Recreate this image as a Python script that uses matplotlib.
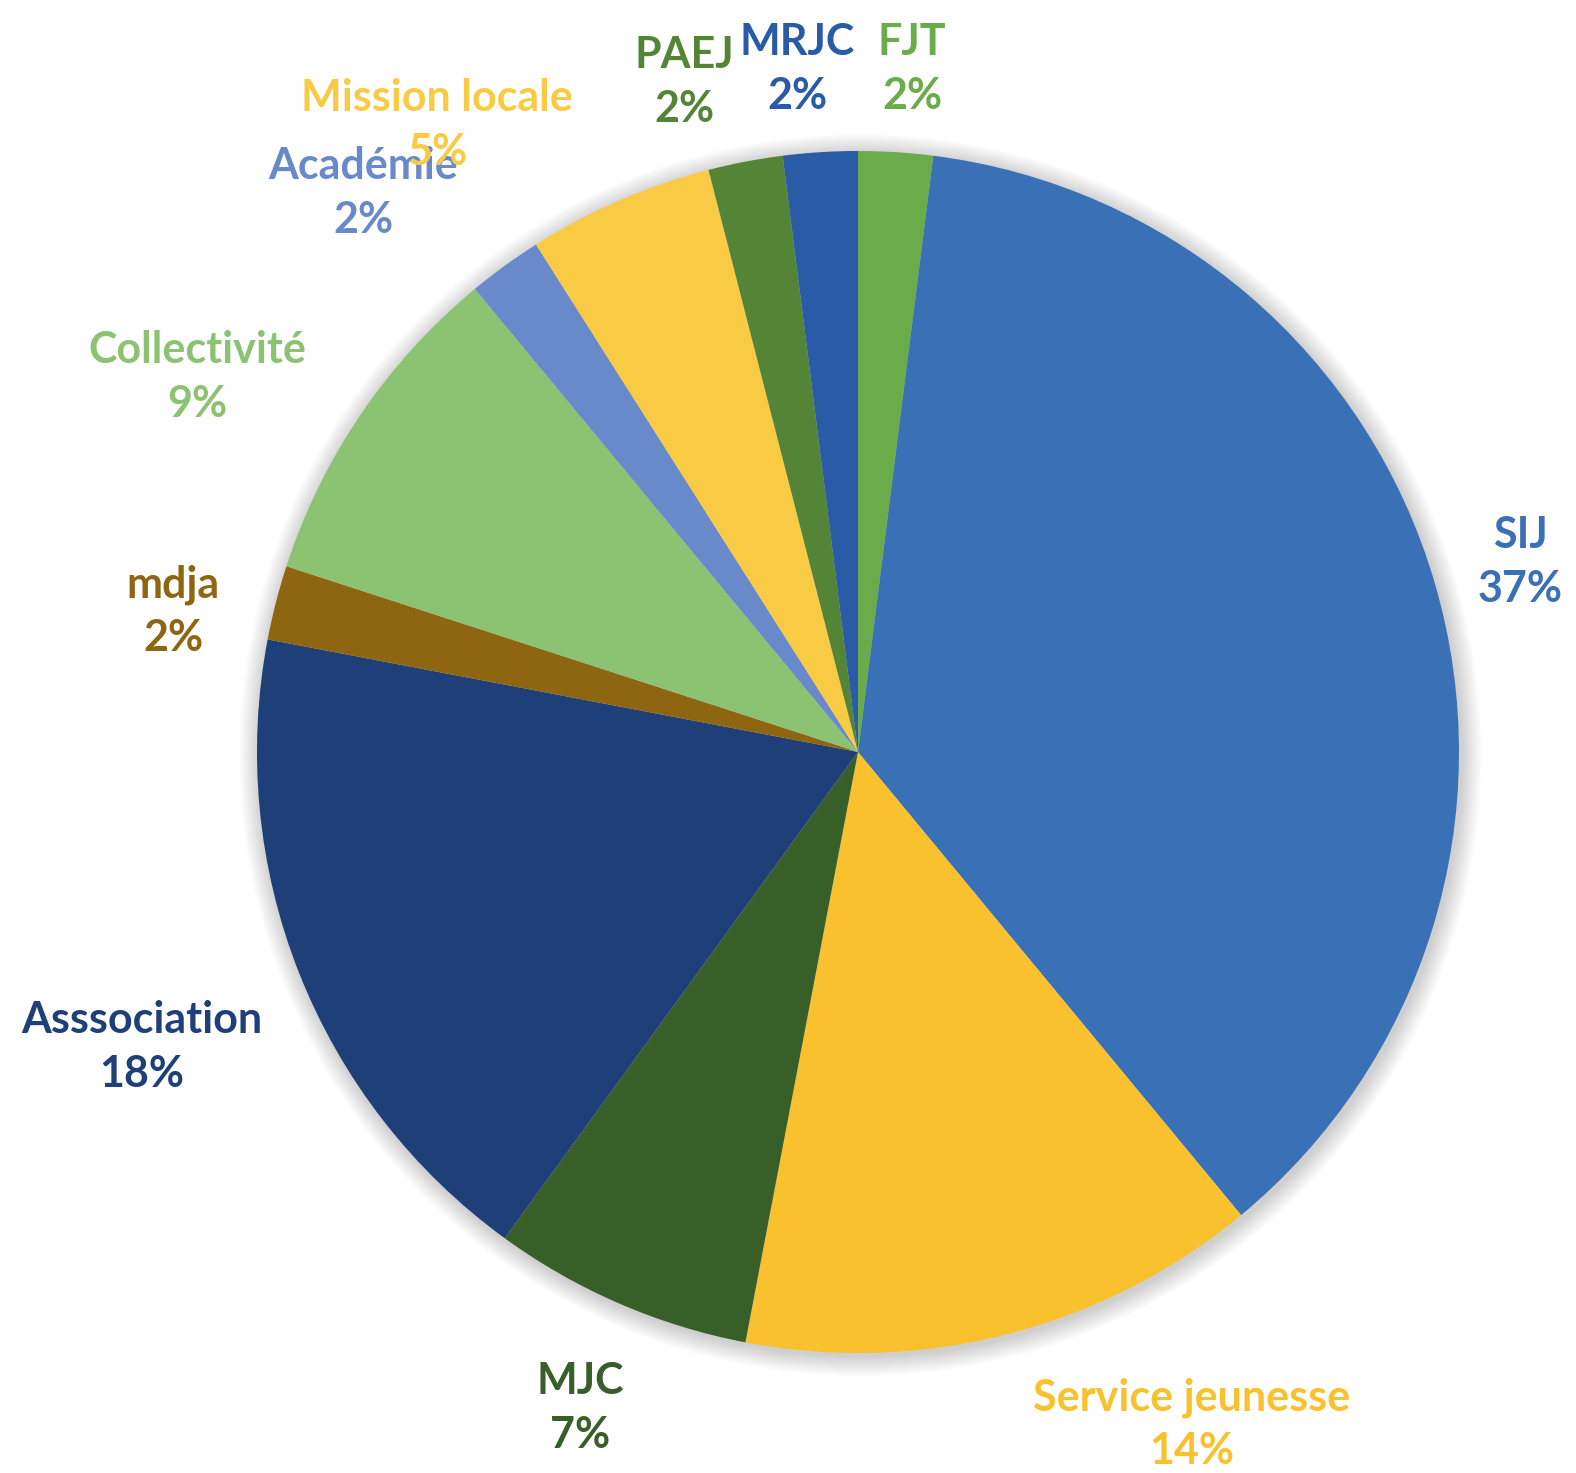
import matplotlib
matplotlib.use("Agg")
import matplotlib.pyplot as plt
from matplotlib.patches import Circle

# Share of structures, clockwise from 12 o'clock
categories = ["FJT", "SIJ", "Service jeunesse", "MJC", "Asssociation", "mdja",
              "Collectivité", "Académie", "Mission locale", "PAEJ", "MRJC"]
shares = [2, 37, 14, 7, 18, 2, 9, 2, 5, 2, 2]
colors = ["#6AAB4A", "#3A70B5", "#F9C12E", "#385F27", "#1E3F78", "#8E6510",
          "#8BC373", "#698ACA", "#F9CB45", "#548537", "#2A5BA6"]

# Label block centres in pixels (figure space, origin top-left)
label_px = [(912, 69), (1520, 562), (1192, 1424), (580, 1408), (142, 1047),
            (173, 611), (197, 377), (363, 193), (437, 125), (684, 82), (797, 69)]

W, H = 1576, 1473
CX, CY, R = 858, 752, 601

fig = plt.figure(figsize=(W / 100, H / 100), dpi=100)
ax = fig.add_axes([0, 0, 1, 1])

# soft outer shadow around the pie
for i in range(24):
    rr = 1.0 + 0.0014 * (i + 1)
    ax.add_patch(Circle((0.004, -0.005), rr, facecolor="#000000",
                        alpha=0.007, edgecolor="none", zorder=0))

wedges, _ = ax.pie(shares, colors=colors, startangle=90, counterclock=False,
                   radius=1.0, wedgeprops=dict(linewidth=0))
for w in wedges:
    w.set_zorder(2)

for name, val, col, (px, py) in zip(categories, shares, colors, label_px):
    x = (px - CX) / R
    y = (CY - py) / R
    ax.text(x, y, f"{name}\n{val}%", ha="center", va="center",
            color=col, fontsize=31, fontweight="bold", family="Lato",
            linespacing=1.4, zorder=5)

ax.set_xlim(-CX / R, (W - CX) / R)
ax.set_ylim(-(H - CY) / R, CY / R)
ax.set_aspect("auto")
ax.axis("off")

fig.savefig("out.png", dpi=100, facecolor="white")
